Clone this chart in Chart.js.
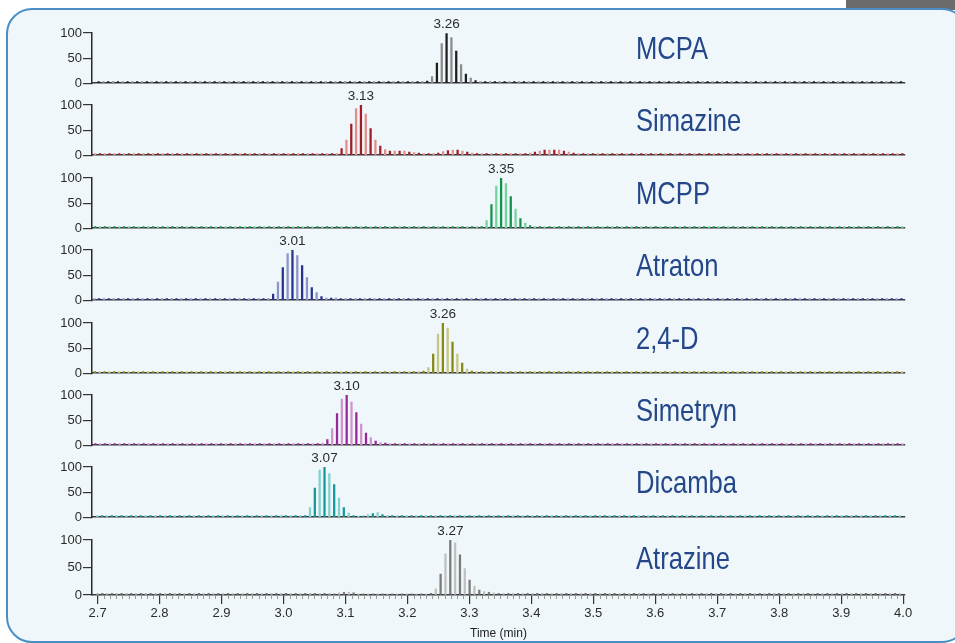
<!DOCTYPE html>
<html>
<head>
<meta charset="utf-8">
<script src="https://cdn.jsdelivr.net/npm/chart.js@4"></script>
<style>
html, body { margin: 0; padding: 0; background: #fff; width: 955px; height: 643px; overflow: hidden; position: relative; }
.tab { position: absolute; left: 846px; top: 0; width: 109px; height: 10px; background: #6b6b6b; }
.card { position: absolute; left: 6px; top: 8px; width: 962px; height: 635px; border: 2px solid #4a8ec6; border-radius: 26px; background: #eff7fa; box-sizing: border-box; }
.panel { position: absolute; left: 0; width: 955px; }
</style>
</head>
<body>
<div class="tab"></div>
<div class="card"></div>
<div id="panels"></div>
<script>
// compound names and retention time labels, top to bottom
var NAMES = ['MCPA', 'Simazine', 'MCPP', 'Atraton', '2,4-D', 'Simetryn', 'Dicamba', 'Atrazine'];
var PEAK_LABELS = ['3.26', '3.13', '3.35', '3.01', '3.26', '3.10', '3.07', '3.27'];
var DARK = ['#1e1e1e', '#a11d24', '#14914d', '#28338f', '#878712', '#962896', '#15979a', '#7a7a7a'];
var LIGHT = ['#8c8c8c', '#e48c8c', '#74d39c', '#8d93cc', '#c6c67c', '#d092d0', '#80d0d0', '#c0c0c0'];

// time of the first listed bar of each trace (min)
var STARTS = [3.232, 3.086, 3.320, 2.9755, 3.226, 3.063, 3.035, 3.082];

// relative abundance (%), one bar per scan
var mcpa = [4, 13, 40, 79, 99, 91, 64, 37, 18, 10, 5, 3];
var simazine = [3, 13, 30, 62, 93, 100, 82, 53, 30, 18, 11, 8, 8, 8, 8, 6, 5, 4, 3, 3, 3, 4, 7, 9, 10, 10, 8, 6, 4, 3,
                3, 3, 3, 3, 3, 3, 3, 3, 3, 3, 4, 6, 8, 10, 10, 10, 10, 8, 6, 4];
var mcpp = [3, 15, 47, 84, 100, 89, 63, 38, 19, 10, 5, 3];
var atraton = [3, 12, 36, 65, 93, 100, 89, 69, 45, 25, 15, 7, 4, 4, 4, 3];
var d24 = [4, 11, 38, 78, 100, 90, 62, 38, 20, 8, 4, 3];
var simetryn = [4, 11, 33, 63, 92, 100, 86, 65, 42, 24, 15, 8, 5, 4, 3];
var dicamba = [3, 19, 58, 94, 100, 87, 65, 38, 19, 8, 3, 2, 2, 5, 7, 9, 5, 3];
var atrazine = [2, 4, 5, 5, 4, 2, 2, 2, 2, 2, 2, 2, 2, 2, 2, 2, 2, 2, 2, 2,
                3, 11, 38, 75, 100, 95, 73, 48, 27, 16, 9, 6, 5, 4];
var SERIES = [mcpa, simazine, mcpp, atraton, d24, simetryn, dicamba, atrazine];

var STEP = 0.0078;   // scan interval (min)
var BASE = 3;        // baseline level outside the listed bars
var X_MIN = 2.691, X_MAX = 4.003;
var X_TICKS = [2.7, 2.8, 2.9, 3.0, 3.1, 3.2, 3.3, 3.4, 3.5, 3.6, 3.7, 3.8, 3.9, 4.0];
var Y_TICKS = [0, 50, 100];

var buildPoints = function (start, values) {
    var pts = [];
    var k = Math.ceil((X_MIN + 0.003 - start) / STEP);
    for (; start + k * STEP <= X_MAX - 0.004; k++) {
        var v = (k >= 0 && k < values.length) ? values[k] : BASE;
        pts.push({ x: start + k * STEP, y: v, k: k });
    }
    return pts;
};

// peak time label and compound name
var labelPlugin = {
    id: 'peakLabels',
    afterDatasetsDraw: function (chart) {
        var n = chart.options.panelIndex;
        var ctx = chart.ctx;
        var meta = chart.getDatasetMeta(0);
        var data = chart.data.datasets[0].data;
        var best = 0;
        data.forEach(function (p, i) { if (p.y > data[best].y) best = i; });
        var el = meta.data[best];
        ctx.save();
        ctx.fillStyle = '#2b2b2b';
        ctx.font = '13.5px "Liberation Sans", Arial, sans-serif';
        ctx.textAlign = 'center';
        ctx.textBaseline = 'bottom';
        ctx.fillText(PEAK_LABELS[n], el.x, el.y - 2);
        ctx.restore();

        // condensed look: squeeze a regular face horizontally
        ctx.save();
        ctx.fillStyle = '#24478a';
        ctx.font = '32px "Liberation Sans", Arial, sans-serif';
        ctx.textAlign = 'left';
        ctx.textBaseline = 'alphabetic';
        ctx.translate(636, chart.scales.y.getPixelForValue(48));
        ctx.scale(0.8, 1);
        ctx.fillText(NAMES[n], 0, 0);
        ctx.restore();
    }
};

// minor ticks every 0.01 min on the bottom axis
var minorTicks = {
    id: 'minorTicks',
    afterDraw: function (chart) {
        if (!chart.options.lastPanel) return;
        var ctx = chart.ctx;
        var x = chart.scales.x;
        var y0 = chart.chartArea.bottom;
        ctx.save();
        ctx.strokeStyle = '#9a9a9a';
        ctx.lineWidth = 1;
        for (var i = 270; i <= 400; i++) {
            if (i % 10 === 0) continue;
            var px = Math.round(x.getPixelForValue(i / 100)) + 0.5;
            ctx.beginPath();
            ctx.moveTo(px, y0);
            ctx.lineTo(px, y0 + 4);
            ctx.stroke();
        }
        ctx.restore();
    }
};

var holder = document.getElementById('panels');

SERIES.forEach(function (values, n) {
    var last = n === SERIES.length - 1;
    var zero = Math.round(88 + n * 72.4);
    var h = last ? 120 : 76;
    var div = document.createElement('div');
    div.className = 'panel';
    div.style.top = (zero - 72) + 'px';
    div.style.height = h + 'px';
    var canvas = document.createElement('canvas');
    canvas.width = 955;
    canvas.height = h;
    div.appendChild(canvas);
    holder.appendChild(div);

    var pts = buildPoints(STARTS[n], values);
    var apex = values.indexOf(Math.max.apply(null, values));

    new Chart(canvas, {
        type: 'bar',
        data: {
            datasets: [{
                data: pts,
                backgroundColor: function (c) {
                    var p = c.raw;
                    if (!p) return DARK[n];
                    return Math.abs(p.k - apex) % 2 === 0 ? DARK[n] : LIGHT[n];
                },
                barThickness: 1.6,
                borderWidth: 0
            }]
        },
        options: {
            panelIndex: n,
            lastPanel: last,
            animation: false,
            responsive: false,
            layout: { padding: { top: 17, right: 50, bottom: last ? 0 : 4, left: 0 } },
            plugins: { legend: { display: false }, tooltip: { enabled: false } },
            scales: {
                x: {
                    type: 'linear',
                    min: X_MIN,
                    max: X_MAX,
                    offset: false,
                    grid: { display: last, offset: false, drawOnChartArea: false, tickLength: 9, color: '#333', lineWidth: 1.2 },
                    border: { color: '#3a3a3a', width: 1.5 },
                    ticks: {
                        display: last,
                        color: '#2b2b2b',
                        padding: 2,
                        maxRotation: 0,
                        font: { size: 13, family: '"Liberation Sans", Arial, sans-serif' },
                        callback: function (v) { return v.toFixed(1); }
                    },
                    afterBuildTicks: function (s) { s.ticks = X_TICKS.map(function (v) { return { value: v }; }); },
                    afterFit: function (s) { s.height = last ? 48 : 0; },
                    title: {
                        display: last,
                        text: 'Time (min)',
                        color: '#222',
                        padding: { top: 0, bottom: 2 },
                        font: { size: 12, family: '"Liberation Sans", Arial, sans-serif' }
                    }
                },
                y: {
                    min: 0,
                    max: 100,
                    grid: { drawOnChartArea: false, tickLength: 9, color: '#333', lineWidth: 1.2 },
                    border: { color: '#2a2a2a', width: 1.5 },
                    ticks: {
                        color: '#2b2b2b',
                        padding: 1,
                        font: { size: 13, family: '"Liberation Sans", Arial, sans-serif' }
                    },
                    afterBuildTicks: function (s) { s.ticks = Y_TICKS.map(function (v) { return { value: v }; }); },
                    afterFit: function (s) { s.width = 92; }
                }
            }
        },
        plugins: [labelPlugin, minorTicks]
    });
});
</script>
</body>
</html>
